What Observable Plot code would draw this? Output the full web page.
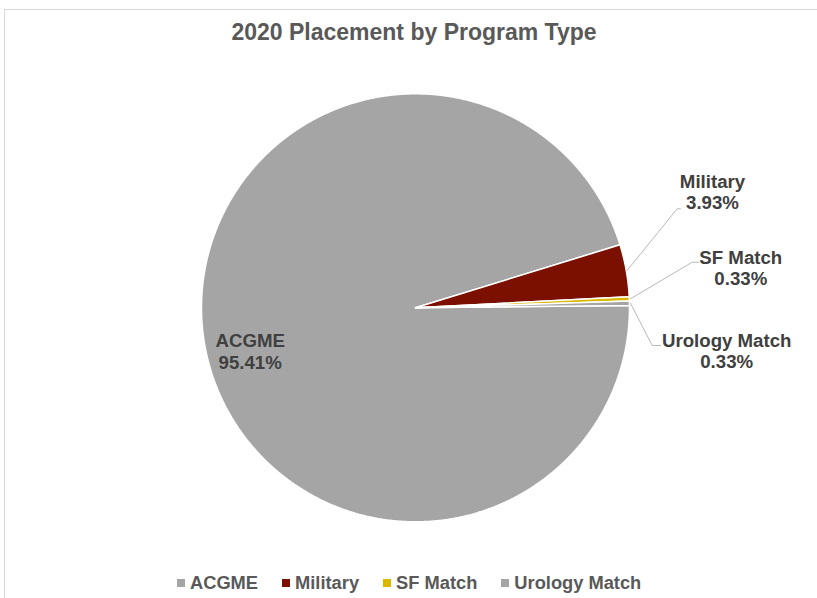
<!DOCTYPE html>
<html>
<head>
<meta charset="utf-8">
<script src="https://cdn.jsdelivr.net/npm/d3@7"></script>
<script src="https://cdn.jsdelivr.net/npm/@observablehq/plot@0.6"></script>
<style>
  html, body { margin: 0; padding: 0; background: #fff; overflow: hidden; }
  #wrap { position: relative; width: 817px; height: 598px; overflow: hidden;
          font-family: "Liberation Sans", Arial, sans-serif; }
  #frame { position: absolute; left: 4px; top: 9px; width: 1000px; height: 1000px;
           border-top: 1px solid #D9D9D9; border-left: 1px solid #D9D9D9; }
  #title { position: absolute; left: 0; top: 18px; width: 828px; text-align: center;
           font-size: 23px; font-weight: bold; color: #595959; line-height: 28px; }
  #chart { position: absolute; left: 0; top: 50px; }
  #legend { position: absolute; left: 177px; top: 573px; display: flex; align-items: center;
            font-size: 18.3px; font-weight: bold; color: #595959; line-height: 20px; white-space: nowrap; }
  .item { display: flex; align-items: center; margin-right: 24px; }
  .sw { width: 8px; height: 8px; margin-right: 5px; }
</style>
</head>
<body>
<div id="wrap">
  <div id="frame"></div>
  <div id="title">2020 Placement by Program Type</div>
  <div id="chart"></div>
  <div id="legend"></div>
</div>
<script>
// ---- data ----
const categories = ["ACGME", "Military", "SF Match", "Urology Match"];
const shares = [95.41, 3.93, 0.33, 0.33];
const colors = ["#A5A5A5", "#7B1000", "#D9B900", "#A5A5A5"];

// ---- layout ----
const W = 817, H = 520;
const R = 214;            // pie radius in px
const cx = 415, cy = 257.3; // pie centre in svg px
const startDeg = 89.4;    // first slice angle (clockwise from 12 o'clock)
// label placement relative to pie centre (px, y up); leader elbow/end relative to label centre
const labelLayout = {
  "ACGME":         {dx: -165.3, dy: -43},
  "Military":      {dx: 297,    dy: 116.1, elbow: [-35.3, -17.1], end: [-32, -17.1]},
  "SF Match":      {dx: 325.3,  dy: 40.4,  elbow: [-48.6, 5.2],   end: [-42, 5.2]},
  "Urology Match": {dx: 311.2,  dy: -42.6, elbow: [-74.5, 4.9],   end: [-66.2, 4.9]}
};

const rows = categories.map((name, i) => ({name, value: shares[i]}));
const a0 = startDeg * Math.PI / 180;
const arcs = d3.pie().sort(null).value(d => d.value).startAngle(a0).endAngle(a0 + 2 * Math.PI)(rows);

// slice polygons in unit-circle coordinates
const slicePts = arcs.flatMap(a => {
  const pts = [{name: a.data.name, u: 0, v: 0}];
  const step = 0.25 * Math.PI / 180;
  const n = Math.max(2, Math.ceil((a.endAngle - a.startAngle) / step));
  for (let i = 0; i <= n; i++) {
    const t = a.startAngle + (a.endAngle - a.startAngle) * i / n;
    pts.push({name: a.data.name, u: Math.sin(t), v: Math.cos(t)});
  }
  pts.push({name: a.data.name, u: 0, v: 0});
  return pts;
});

const labels = arcs.map(a => {
  const L = labelLayout[a.data.name];
  return {name: a.data.name, u: L.dx / R, v: L.dy / R,
          text: `${a.data.name}\n${a.data.value.toFixed(2)}%`};
});

const leaders = arcs.filter(a => labelLayout[a.data.name].elbow).flatMap(a => {
  const L = labelLayout[a.data.name];
  const mid = (a.startAngle + a.endAngle) / 2;
  const r = 1.005;
  return [
    {name: a.data.name, u: r * Math.sin(mid), v: r * Math.cos(mid)},
    {name: a.data.name, u: (L.dx + L.elbow[0]) / R, v: (L.dy + L.elbow[1]) / R},
    {name: a.data.name, u: (L.dx + L.end[0]) / R, v: (L.dy + L.end[1]) / R}
  ];
});

const chart = Plot.plot({
  width: W, height: H, margin: 0,
  style: {background: "transparent", overflow: "visible"},
  x: {domain: [-cx / R, (W - cx) / R], axis: null},
  y: {domain: [-(H - cy) / R, cy / R], axis: null},
  color: {domain: categories, range: colors},
  marks: [
    Plot.line(slicePts, {x: "u", y: "v", z: "name", fill: "name", stroke: "#FFFFFF",
                         strokeWidth: 1.5, strokeLinejoin: "miter", curve: "linear"}),
    Plot.line(leaders, {x: "u", y: "v", z: "name", stroke: "#A6A6A6", strokeWidth: 0.8}),
    Plot.text(labels, {x: "u", y: "v", text: "text", textAnchor: "middle", lineHeight: 1.16,
                       fontSize: 18.67, fontWeight: "bold", fill: "#404040",
                       fontFamily: "Liberation Sans, Arial, sans-serif"})
  ]
});
document.getElementById("chart").appendChild(chart);

// legend
const legend = document.getElementById("legend");
categories.forEach((name, i) => {
  const item = document.createElement("div");
  item.className = "item";
  const sw = document.createElement("div");
  sw.className = "sw";
  sw.style.background = colors[i];
  const tx = document.createElement("span");
  tx.textContent = name;
  item.appendChild(sw); item.appendChild(tx);
  legend.appendChild(item);
});
</script>
</body>
</html>
